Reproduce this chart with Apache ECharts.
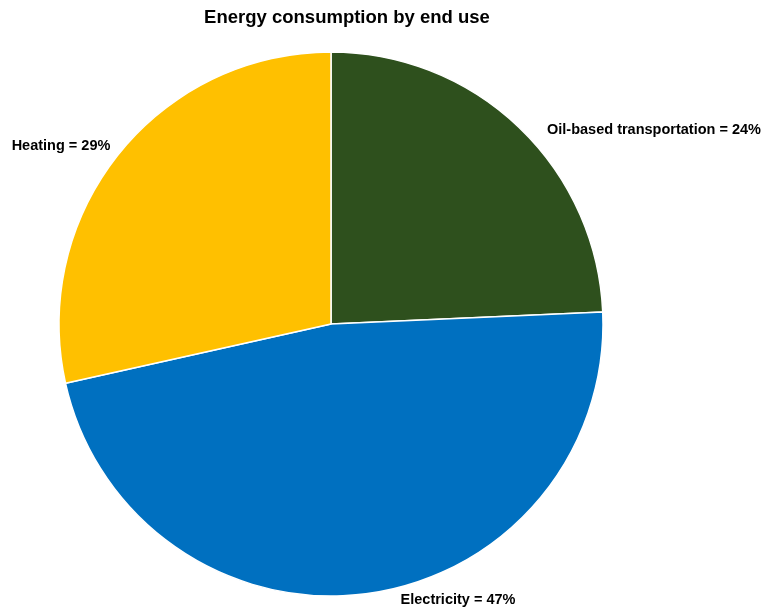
<!DOCTYPE html>
<html><head><meta charset="utf-8">
<script src="https://cdn.jsdelivr.net/npm/echarts@6/dist/echarts.min.js"></script>
<style>html,body{margin:0;padding:0;background:#fff}#c{width:768px;height:611px}</style>
</head><body><div id="c"></div>
<script>
const categories = ['Oil-based transportation', 'Electricity', 'Heating'];
const values = [24.3, 47.2, 28.5];
const colors = ['#2e501d', '#0070c0', '#ffc000'];
const labelPos = [[654, 130], [458, 600], [61, 146]];

const chart = echarts.init(document.getElementById('c'), null, {renderer: 'canvas'});
chart.setOption({
  animation: false,
  backgroundColor: '#fff',
  title: {
    text: 'Energy consumption by end use',
    left: 342, top: 3, textAlign: 'center',
    textStyle: {fontFamily: 'Liberation Sans, Arial', fontWeight: 'bold', fontSize: 18.5, color: '#000'}
  },
  series: [{
    type: 'pie',
    center: [331, 324],
    radius: [0, 272],
    startAngle: 90,
    clockwise: true,
    data: categories.map((c, i) => ({name: c, value: values[i], itemStyle: {color: colors[i]}})),
    itemStyle: {borderColor: '#fff', borderWidth: 1.5},
    label: {
      show: true, position: 'outside', overflow: 'none', width: 300,
      formatter: p => p.name + ' = ' + Math.round(p.value) + '%',
      fontFamily: 'Liberation Sans, Arial', fontWeight: 'bold', fontSize: 14.5, color: '#000'
    },
    labelLine: {show: false},
    labelLayout: p => ({x: labelPos[p.dataIndex][0], y: labelPos[p.dataIndex][1], align: 'center', verticalAlign: 'middle'}),
    emphasis: {disabled: true}
  }]
});
</script></body></html>
